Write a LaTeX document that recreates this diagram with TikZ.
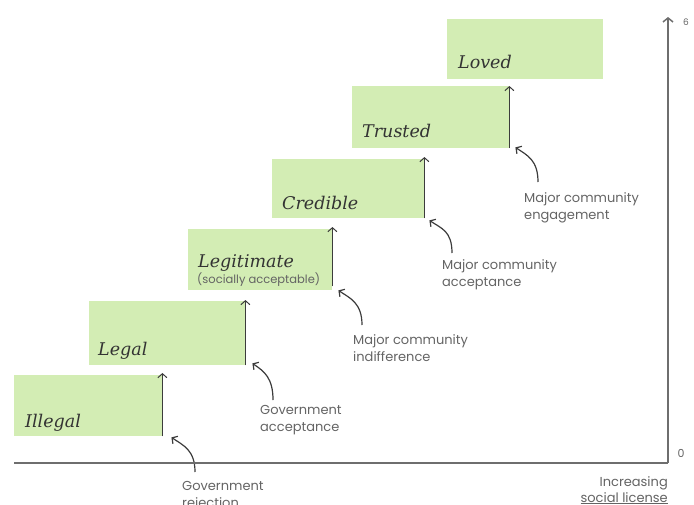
\documentclass[tikz,border=0pt]{standalone}
\usepackage{fontspec}
\setmainfont{Poppins}
\newfontfamily\boxfont{DejaVu Serif}
\usepackage{xcolor}
\usepackage{tikz}
\usetikzlibrary{arrows.meta}

\definecolor{stepgreen}{RGB}{211,237,180}
\definecolor{notegray}{RGB}{100,100,100}
\definecolor{axisgray}{RGB}{110,110,110}
\definecolor{arrowgray}{RGB}{60,60,60}

\tikzset{
  stepbox/.style={fill=stepgreen, inner sep=0pt, anchor=north west},
  steplabel/.style={font=\boxfont\itshape\fontsize{17.5}{18}\selectfont, text=black!80, inner sep=0pt, anchor=base west},
  note/.style={font=\fontsize{13}{17}\selectfont, text=notegray, align=left, inner sep=0pt, anchor=north west},
  rise/.style={draw=arrowgray, line width=1pt, -{Straight Barb[length=4pt,width=9pt]}},
  curvy/.style={draw=arrowgray, line width=1.2pt, -{Straight Barb[length=4pt,width=9pt]}},
  axis/.style={draw=axisgray, line width=1.5pt}
}

\begin{document}
\begin{tikzpicture}[x=1pt, y=-1pt]
      \useasboundingbox (0,0) rectangle (694,504);

      \node[stepbox, minimum width=148pt, minimum height=61pt] (illegal) at (14,375) {};
      \node[stepbox, minimum width=156pt, minimum height=64pt] (legal) at (89,301) {};
      \node[stepbox, minimum width=144pt, minimum height=61pt] (legit) at (188,229) {};
      \node[stepbox, minimum width=152pt, minimum height=59pt] (credible) at (272,159) {};
      \node[stepbox, minimum width=157pt, minimum height=62pt] (trusted) at (352,86) {};
      \node[stepbox, minimum width=156pt, minimum height=60pt] (loved) at (447,19) {};

      \node[steplabel] (illegallab) at (25,427) {Illegal};
      \node[steplabel] (legallab) at (98,355) {Legal};
      \node[steplabel] (legitlab) at (198,267) {Legitimate};
      \node[inner sep=0pt, anchor=base west, font=\fontsize{11.5}{12}\selectfont, text=notegray] (legitsub) at (197,283) {(socially acceptable)};
      \node[steplabel] (crediblelab) at (282,209) {Credible};
      \node[steplabel] (trustedlab) at (362,137) {Trusted};
      \node[steplabel] (lovedlab) at (458,68) {Loved};

      \draw[rise] (illegal.south east) -- ([yshift=2pt]illegal.north east);
      \draw[rise] (legal.south east) -- ([yshift=1pt]legal.north east);
      \draw[rise] ([yshift=4pt]legit.south east) -- ([yshift=2pt]legit.north east);
      \draw[rise] (credible.south east) -- ([yshift=2pt]credible.north east);
      \draw[rise] (trusted.south east) -- (trusted.north east);

      \node[note] (rejnote) at (182,481) {Government\\rejection};
      \node[note] (govnote) at (260,405) {Government\\acceptance};
      \node[note] (indnote) at (353,334) {Major community\\indifference};
      \node[note] (accnote) at (442,259) {Major community\\acceptance};
      \node[note] (engnote) at (524,192) {Major community\\engagement};

      \draw[curvy] ([xshift=13pt,yshift=9pt]rejnote.north west) .. controls +(0pt,22pt) and +(12pt,-8pt) .. ([xshift=9pt,yshift=-1pt]illegal.south east);
      \draw[curvy] ([xshift=13pt,yshift=5pt]govnote.north west) .. controls +(0pt,22pt) and +(12pt,-8pt) .. ([xshift=7pt,yshift=2pt]legal.south east);
      \draw[curvy] ([xshift=9pt,yshift=9pt]indnote.north west) .. controls +(0pt,22pt) and +(12pt,-8pt) .. ([xshift=6pt]legit.south east);
      \draw[curvy] ([xshift=10pt,yshift=6pt]accnote.north west) .. controls +(0pt,22pt) and +(12pt,-8pt) .. ([xshift=5pt,yshift=-2pt]credible.south east);
      \draw[curvy] ([xshift=14pt,yshift=10pt]engnote.north west) .. controls +(0pt,22pt) and +(12pt,-8pt) .. ([xshift=6pt,yshift=1pt]trusted.south east);

      \coordinate (xstart) at (14,463);
      \coordinate (origin) at (668,463);
      \coordinate (ytop) at (668,17);
      \draw[axis] (xstart) -- (origin);
      \draw[axis, -{Straight Barb[length=4pt,width=10pt]}] (origin) -- (ytop);

      \node[text=notegray, font=\fontsize{9}{10}\selectfont] (six) at (686,22) {6};
      \node[text=notegray, font=\fontsize{11}{10}\selectfont] (zero) at (681,453) {0};
      \node[note, anchor=north east, align=right, font=\fontsize{13}{16}\selectfont] (axislab) at (668,476) {Increasing\\\underline{social license}};
\end{tikzpicture}
\end{document}
